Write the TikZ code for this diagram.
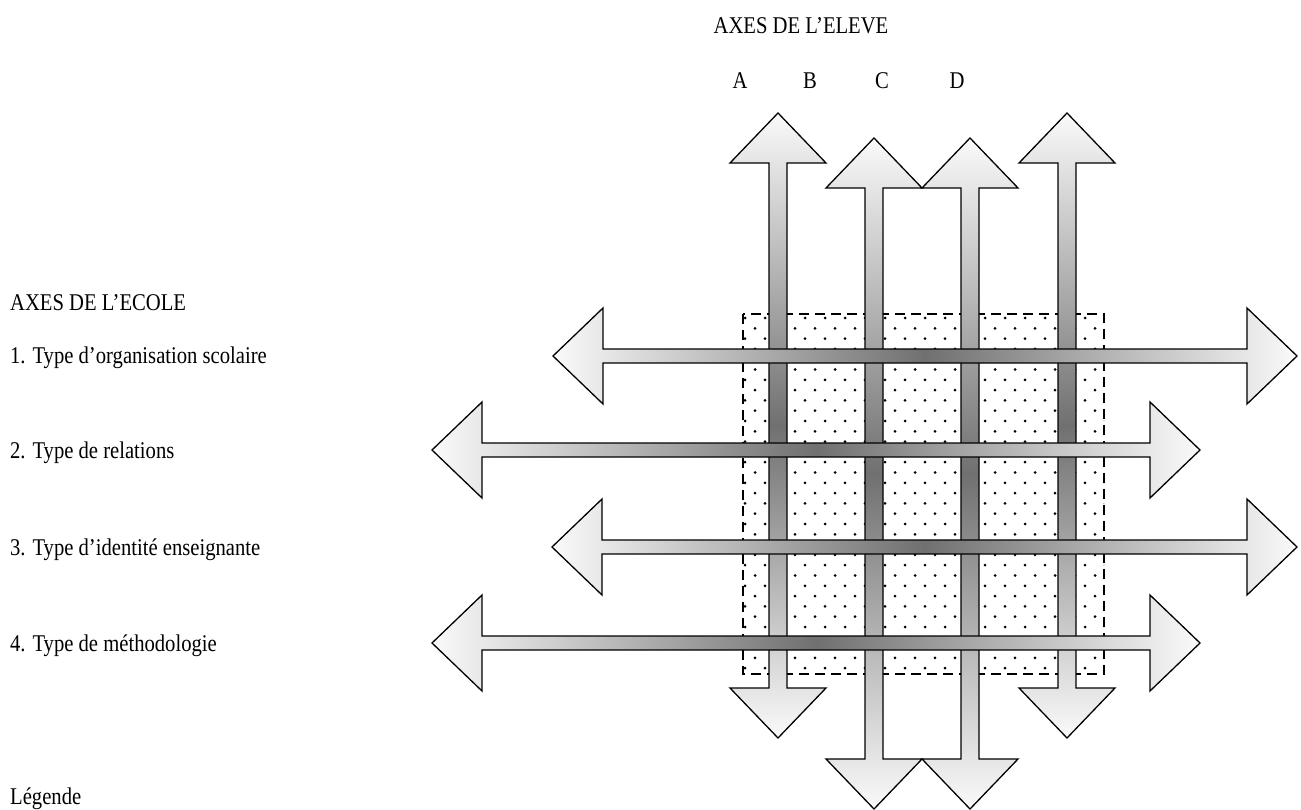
\documentclass[tikz,border=0pt]{standalone}
\usepackage{fontspec}
\setmainfont{Liberation Serif}
\definecolor{axend}{gray}{0.98}
\definecolor{axmid}{gray}{0.44}
\pgfdeclarehorizontalshading{axeshade}{100bp}{color(0bp)=(axend); color(25bp)=(axend); color(50bp)=(axmid); color(75bp)=(axend); color(100bp)=(axend)}
\tikzset{
  axe/.style={draw=black, line width=1.3pt, shading=axeshade},
  axevert/.style={axe, shading angle=90},
  lab/.style={anchor=base west, inner sep=0pt, xscale=0.86, font=\fontsize{24}{28}\selectfont}
}
% horizontal axis: left tip, right tip, height
\newcommand{\axeh}[3]{\shadedraw[axe] (#1,#3) -- ++(50,-48) -- ++(0,41) -- ({#2-50},{#3-7}) -- ++(0,-41) -- (#2,#3) -- ++(-50,48) -- ++(0,-41) -- ({#1+50},{#3+7}) -- ++(0,41) -- cycle;}
% vertical axis: position, top tip, bottom tip
\newcommand{\axev}[3]{\shadedraw[axevert] (#1,#2) -- ++(48,50) -- ++(-39,0) -- ({#1+9},{#3-50}) -- ++(39,0) -- (#1,#3) -- ++(-48,-50) -- ++(39,0) -- ({#1-9},{#2+50}) -- ++(-39,0) -- cycle;}
\begin{document}
\begin{tikzpicture}[x=1pt,y=-1pt]
\useasboundingbox (0,0) rectangle (1301,810);
\clip (0,0) rectangle (1301,810);
\node[lab, anchor=base] (eleve) at (801,34) {AXES DE L’ELEVE};
\foreach \l/\x in {A/740,B/810,C/882,D/957}
  \node[lab, anchor=base] (ax\l) at (\x,89) {\l};
\node[lab] (ecole) at (10,310) {AXES DE L’ECOLE};
\node[lab] (orga) at (10,363) {1. Type d’organisation scolaire};
\node[lab] (rela) at (10,458) {2. Type de relations};
\node[lab] (iden) at (10,555) {3. Type d’identité enseignante};
\node[lab] (meth) at (10,651) {4. Type de méthodologie};
\node[lab] (leg) at (10,804) {Légende};
\begin{scope}
\clip (743,314) rectangle (1104,674);
\foreach \j in {0,...,35}
  \foreach \i in {0,...,18}
    \fill ({745+20*\i+10*mod(\j,2)},{318+10.3*\j}) circle (1.5);
\end{scope}
\draw[line width=1.3pt, dash pattern=on 10pt off 6pt] (743,314) rectangle (1104,674);
\axev{778}{113}{738}
\axev{874}{138}{809}
\axev{970}{138}{809}
\axev{1067}{113}{738}
\axeh{553}{1297}{356}
\axeh{432}{1200}{450}
\axeh{552}{1297}{547}
\axeh{432}{1200}{643}
\end{tikzpicture}
\end{document}
